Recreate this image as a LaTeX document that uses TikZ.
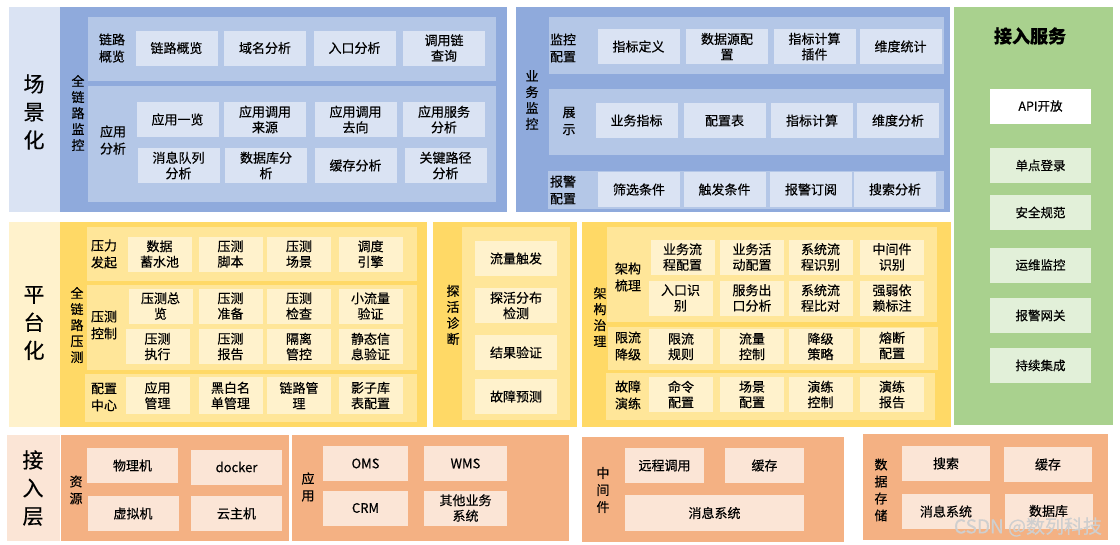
\documentclass[tikz,border=0pt]{standalone}
\usepackage{fontspec}
\usepackage{tikz}
\newfontfamily\cjk[FakeBold=0.4]{Noto Sans CJK SC}
\definecolor{bluePanel}{HTML}{8FAADC}
\definecolor{blueSub}{HTML}{B4C7E7}
\definecolor{blueBox}{HTML}{DAE3F3}
\definecolor{yelPanel}{HTML}{FFD966}
\definecolor{yelSub}{HTML}{FFE699}
\definecolor{yelBox}{HTML}{FFF2CC}
\definecolor{orgPanel}{HTML}{F4B183}
\definecolor{orgBox}{HTML}{FBE5D6}
\definecolor{grnPanel}{HTML}{A9D18E}
\definecolor{grnBox}{HTML}{E2F0D9}
\definecolor{markGray}{HTML}{CFCFCF}

\begin{document}
\begin{tikzpicture}[
  x=1pt, y=-1pt,
  bigl/.style={font=\cjk\fontsize{21}{28}\selectfont, align=center, inner sep=0pt},
  lab/.style={font=\cjk\fontsize{13}{17}\selectfont, align=center, inner sep=0pt},
  vlab/.style={font=\cjk\fontsize{13}{16}\selectfont, align=center, inner sep=0pt},
  sbox/.style={font=\cjk\fontsize{13}{15.5}\selectfont, align=center, inner sep=0pt,
    minimum width=82, minimum height=35},
  bbox/.style={sbox, fill=blueBox},
  ybox/.style={sbox, fill=yelBox, minimum width=64},
  obox/.style={sbox, fill=orgBox},
  gbox/.style={sbox, fill=grnBox, minimum width=101, font=\cjk\fontsize{12.5}{15}\selectfont}
]
  \useasboundingbox (0,0) rectangle (1120,544);

  % panels
  \fill[blueBox] (9,7) rectangle (60,212);
  \fill[bluePanel] (60,7) rectangle (507,212);
  \fill[blueSub] (88,17) rectangle (496,81);
  \fill[blueSub] (88,86) rectangle (496,202);
  \fill[bluePanel] (516,7) rectangle (950,212);
  \fill[blueSub] (549,17) rectangle (944,74);
  \fill[blueSub] (549,89) rectangle (944,155);
  \fill[blueSub] (548,171) rectangle (944,209);
  \fill[grnPanel] (954,7) rectangle (1113,425);

  \fill[yelBox] (9,222) rectangle (60,427);
  \fill[yelPanel] (60,222) rectangle (427,427);
  \fill[yelSub] (87,227) rectangle (417,281);
  \fill[yelSub] (87,285) rectangle (417,370);
  \fill[yelSub] (85,374) rectangle (417,422);
  \fill[yelPanel] (433,222) rectangle (577,427);
  \fill[yelSub] (462,227) rectangle (570,420);
  \fill[yelPanel] (582,222) rectangle (951,427);
  \fill[yelSub] (607,227) rectangle (937,322);
  \fill[yelSub] (608,327) rectangle (938,370);
  \fill[yelSub] (606,373) rectangle (935,420);

  \fill[orgBox] (7,435) rectangle (60,541);
  \fill[orgPanel] (61,435) rectangle (289,541);
  \fill[orgPanel] (292,435) rectangle (569,541);
  \fill[orgPanel] (582,437) rectangle (844,542);
  \fill[orgPanel] (863,434) rectangle (1108,540);

  % layer titles
  \node[bigl] (scene) at (34,112) {场\\景\\化};
  \node[bigl] (platf) at (34,323) {平\\台\\化};
  \node[bigl] (access) at (33,488) {接\\入\\层};

  % full-link monitoring
  \node[vlab] (mon) at (78,113) {全\\链\\路\\监\\控};
  \node[lab] (monA) at (112,48) {链路\\概览};
  \node[bbox] (a1) at (176.5,48) {链路概览};
  \node[bbox] (a2) at (265,48) {域名分析};
  \node[bbox] (a3) at (354.5,48) {入口分析};
  \node[bbox] (a4) at (444,48) {调用链\\查询};
  \node[lab] (monB) at (113,140) {应用\\分析};
  \node[bbox] (b1) at (177.5,119.5) {应用一览};
  \node[bbox] (b2) at (265,119.5) {应用调用\\来源};
  \node[bbox] (b3) at (355.5,119.5) {应用调用\\去向};
  \node[bbox] (b4) at (444,119.5) {应用服务\\分析};
  \node[bbox] (b5) at (178.5,165.5) {消息队列\\分析};
  \node[bbox] (b6) at (266,165.5) {数据库分\\析};
  \node[bbox] (b7) at (355.5,165.5) {缓存分析};
  \node[bbox] (b8) at (445.5,165.5) {关键路径\\分析};

  % business monitoring
  \node[vlab] (biz) at (532,100) {业\\务\\监\\控};
  \node[lab] (bizA) at (563,48) {监控\\配置};
  \node[bbox] (c1) at (638.5,46.5) {指标定义};
  \node[bbox] (c2) at (727,46.5) {数据源配\\置};
  \node[bbox] (c3) at (814.5,46.5) {指标计算\\插件};
  \node[bbox] (c4) at (900.5,46.5) {维度统计};
  \node[lab] (bizB) at (569,121) {展\\示};
  \node[bbox] (d1) at (636.5,120.5) {业务指标};
  \node[bbox] (d2) at (724.5,120.5) {配置表};
  \node[bbox] (d3) at (812,120.5) {指标计算};
  \node[bbox] (d4) at (898,120.5) {维度分析};
  \node[lab] (bizC) at (563,190) {报警\\配置};
  \node[bbox] (e1) at (639,189.5) {筛选条件};
  \node[bbox] (e2) at (724.5,189.5) {触发条件};
  \node[bbox] (e3) at (811,189.5) {报警订阅};
  \node[bbox] (e4) at (895,189.5) {搜索分析};

  % access services
  \node[font=\cjk\bfseries\fontsize{18}{20}\selectfont] (svc) at (1030,36) {接入服务};
  \node[gbox, fill=white] (g1) at (1040.5,106) {API开放};
  \node[gbox] (g2) at (1040.5,165.5) {单点登录};
  \node[gbox] (g3) at (1040.5,212.5) {安全规范};
  \node[gbox] (g4) at (1040.5,265) {运维监控};
  \node[gbox] (g5) at (1040.5,315.5) {报警网关};
  \node[gbox] (g6) at (1040.5,365.5) {持续集成};

  % full-link stress test
  \node[vlab] (st) at (77,325) {全\\链\\路\\压\\测};
  \node[lab] (stA) at (104,254) {压力\\发起};
  \node[ybox] (p1) at (159.5,254) {数据\\蓄水池};
  \node[ybox] (p2) at (230.5,254) {压测\\脚本};
  \node[ybox] (p3) at (299,254) {压测\\场景};
  \node[ybox] (p4) at (370.5,254) {调度\\引擎};
  \node[lab] (stB) at (104,325) {压测\\控制};
  \node[ybox] (q1) at (160.5,306) {压测总\\览};
  \node[ybox] (q2) at (230.5,306) {压测\\准备};
  \node[ybox] (q3) at (299,306) {压测\\检查};
  \node[ybox] (q4) at (370.5,306) {小流量\\验证};
  \node[ybox] (q5) at (157.5,346.5) {压测\\执行};
  \node[ybox] (q6) at (230.5,346.5) {压测\\报告};
  \node[ybox] (q7) at (299,346.5) {隔离\\管控};
  \node[ybox] (q8) at (370.5,346.5) {静态信\\息验证};
  \node[lab] (stC) at (104,397) {配置\\中心};
  \node[ybox, minimum height=37] (r1) at (157.5,395.5) {应用\\管理};
  \node[ybox, minimum height=37] (r2) at (230.5,395.5) {黑白名\\单管理};
  \node[ybox, minimum height=37] (r3) at (299,395.5) {链路管\\理};
  \node[ybox, minimum height=37] (r4) at (370.5,395.5) {影子库\\表配置};

  % probe diagnosis
  \node[vlab] (pr) at (453,315) {探\\活\\诊\\断};
  \node[ybox, minimum width=82] (s1) at (516,258.5) {流量触发};
  \node[ybox, minimum width=82] (s2) at (516,305.5) {探活分布\\检测};
  \node[ybox, minimum width=82] (s3) at (516,352.5) {结果验证};
  \node[ybox, minimum width=82] (s4) at (516,396.5) {故障预测};

  % architecture governance
  \node[vlab] (ar) at (600,317) {架\\构\\治\\理};
  \node[lab] (arA) at (628,277) {架构\\梳理};
  \node[ybox] (t1) at (682.5,257) {业务流\\程配置};
  \node[ybox] (t2) at (752,257) {业务活\\动配置};
  \node[ybox] (t3) at (820.5,257) {系统流\\程识别};
  \node[ybox] (t4) at (892,257) {中间件\\识别};
  \node[ybox] (t5) at (680.5,298) {入口识\\别};
  \node[ybox] (t6) at (752,298) {服务出\\口分析};
  \node[ybox] (t7) at (820.5,298) {系统流\\程比对};
  \node[ybox] (t8) at (892,298) {强弱依\\赖标注};
  \node[lab] (arB) at (628,346) {限流\\降级};
  \node[ybox] (u1) at (681,346.5) {限流\\规则};
  \node[ybox] (u2) at (752,346.5) {流量\\控制};
  \node[ybox] (u3) at (820.5,346.5) {降级\\策略};
  \node[ybox] (u4) at (892,345.5) {熔断\\配置};
  \node[lab] (arC) at (628,395) {故障\\演练};
  \node[ybox] (v1) at (681,394.5) {命令\\配置};
  \node[ybox] (v2) at (752,394.5) {场景\\配置};
  \node[ybox] (v3) at (820.5,394.5) {演练\\控制};
  \node[ybox] (v4) at (892,394.5) {演练\\报告};

  % resources and applications
  \node[lab] (res) at (76,490) {资\\源};
  \node[obox, minimum width=91] (w1) at (132.5,465.5) {物理机};
  \node[obox, minimum width=91] (w2) at (236.5,467) {docker};
  \node[obox, minimum width=91] (w3) at (133,513.5) {虚拟机};
  \node[obox, minimum width=91] (w4) at (236.5,513.5) {云主机};
  \node[lab] (app) at (308,487) {应\\用};
  \node[obox, minimum width=85] (x1) at (365.5,463.5) {OMS};
  \node[obox, minimum width=83] (x2) at (465.5,463.5) {WMS};
  \node[obox, minimum width=85] (x3) at (365.5,508) {CRM};
  \node[obox, minimum width=83] (x4) at (465.5,508) {其他业务\\系统};

  % middleware and storage
  \node[lab] (mid) at (603,490) {中\\间\\件};
  \node[obox, minimum width=79] (m1) at (664.5,465.5) {远程调用};
  \node[obox, minimum width=79] (m2) at (764.5,465.5) {缓存};
  \node[obox, minimum width=179, minimum height=36] (m3) at (714.5,513) {消息系统};
  \node[lab] (sto) at (881,490) {数\\据\\存\\储};
  \node[obox, minimum width=88] (k1) at (946,463.5) {搜索};
  \node[obox, minimum width=88] (k2) at (1048,464.5) {缓存};
  \node[obox, minimum width=88] (k3) at (946,511.5) {消息系统};
  \node[obox, minimum width=88] (k4) at (1048.5,511) {数据库};

  % watermark
  \node[font=\cjk\fontsize{19}{21}\selectfont, text=markGray, inner sep=0pt] (wm) at (1028,527) {CSDN @数列科技};

\end{tikzpicture}
\end{document}
